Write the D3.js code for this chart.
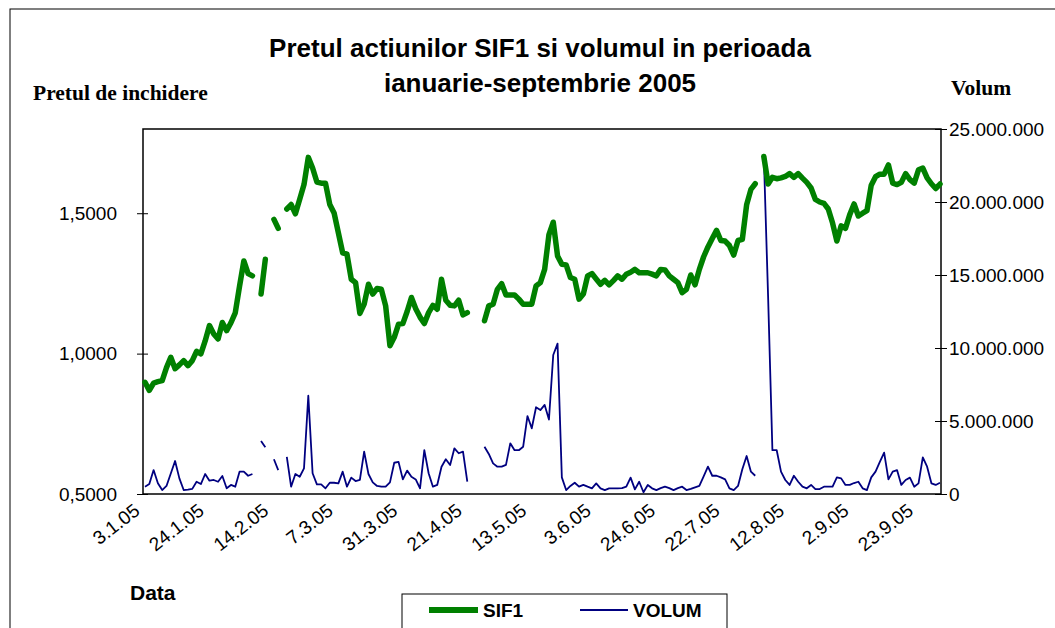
<!DOCTYPE html>
<html>
<head>
<meta charset="utf-8">
<script src="https://cdn.jsdelivr.net/npm/d3@7"></script>
<style>
  body { margin: 0; background: #fff; }
  svg { display: block; }
</style>
</head>
<body>
<svg id="chart" width="1055" height="628"></svg>
<script>
// SIF1 closing price and traded volume, Jan - Sep 2005 (one value per trading day, null = no data)
var sif1 = [
  0.898, 0.869, 0.895, 0.900, 0.904, 0.950, 0.987, 0.946, 0.960, 0.975,
  0.957, 0.975, 1.008, 0.999, 1.045, 1.100, 1.070, 1.052, 1.111, 1.082,
  1.110, 1.145, 1.240, 1.330, 1.285, 1.277, null, 1.212, 1.336, null,
  1.478, 1.446, null, 1.515, 1.531, 1.498, 1.550, 1.602, 1.699, 1.661,
  1.611, 1.607, 1.607, 1.531, 1.501, 1.430, 1.359, 1.354, 1.265, 1.253,
  1.143, 1.176, 1.247, 1.212, 1.232, 1.229, 1.170, 1.028, 1.058, 1.105,
  1.107, 1.150, 1.200, 1.160, 1.130, 1.107, 1.146, 1.172, 1.158, 1.265,
  1.190, 1.172, 1.170, 1.190, 1.138, 1.146, null, null, null, 1.117,
  1.170, 1.176, 1.229, 1.249, 1.209, 1.209, 1.209, 1.194, 1.176, 1.176,
  1.176, 1.241, 1.253, 1.300, 1.424, 1.468, 1.348, 1.318, 1.316, 1.271,
  1.265, 1.194, 1.212, 1.277, 1.285, 1.266, 1.247, 1.261, 1.245, 1.260,
  1.277, 1.265, 1.283, 1.290, 1.300, 1.288, 1.288, 1.288, 1.283, 1.277,
  1.300, 1.298, 1.277, 1.265, 1.253, 1.217, 1.229, 1.280, 1.245, 1.300,
  1.345, 1.380, 1.410, 1.439, 1.403, 1.401, 1.385, 1.351, 1.403, 1.407,
  1.530, 1.585, 1.605, null, 1.702, 1.604, 1.628, 1.623, 1.626, 1.631,
  1.641, 1.628, 1.641, 1.625, 1.610, 1.590, 1.549, 1.540, 1.535, 1.515,
  1.465, 1.401, 1.455, 1.446, 1.495, 1.533, 1.490, 1.500, 1.509, 1.600,
  1.630, 1.639, 1.639, 1.672, 1.607, 1.602, 1.610, 1.641, 1.620, 1.607,
  1.655, 1.661, 1.626, 1.605, 1.588, 1.604
];

// volume in millions of shares
var volum = [
  0.50, 0.68, 1.64, 0.73, 0.27, 0.55, 1.40, 2.26, 1.07, 0.27,
  0.30, 0.35, 0.84, 0.68, 1.37, 0.91, 0.96, 0.84, 1.23, 0.39,
  0.62, 0.50, 1.53, 1.53, 1.25, 1.37, null, 3.63, 3.20, null,
  2.38, 1.64, null, 2.55, 0.50, 1.37, 1.18, 1.76, 6.73, 1.42,
  0.66, 0.66, 0.39, 0.77, 0.77, 0.73, 1.53, 0.50, 1.12, 0.89,
  0.96, 2.90, 1.37, 0.80, 0.55, 0.50, 0.50, 0.80, 2.14, 2.20,
  1.00, 1.60, 1.18, 1.00, 0.39, 3.00, 1.42, 0.50, 0.62, 1.87,
  2.38, 1.99, 3.13, 2.79, 2.90, 0.84, null, null, null, 3.24,
  2.74, 2.10, 1.87, 1.87, 1.99, 3.47, 3.00, 3.00, 3.24, 5.34,
  4.50, 5.94, 5.75, 6.10, 5.10, 9.52, 10.30, 1.14, 0.27, 0.55,
  0.77, 0.50, 0.62, 0.50, 0.39, 0.73, 0.39, 0.27, 0.39, 0.39,
  0.39, 0.40, 0.50, 1.12, 0.32, 0.84, 0.12, 0.62, 0.39, 0.27,
  0.40, 0.50, 0.40, 0.27, 0.40, 0.50, 0.27, 0.35, 0.46, 0.55,
  1.20, 1.87, 1.25, 1.25, 1.14, 1.00, 0.39, 0.27, 0.55, 1.69,
  2.60, 1.53, 1.25, null, 23.20, 13.50, 3.00, 3.00, 1.53, 0.96,
  0.62, 1.25, 0.84, 0.50, 0.39, 0.62, 0.34, 0.34, 0.50, 0.50,
  0.50, 1.14, 1.07, 0.62, 0.62, 0.75, 0.84, 0.39, 0.27, 1.14,
  1.53, 2.20, 2.83, 1.00, 1.53, 1.64, 0.62, 0.96, 1.12, 0.50,
  0.73, 2.51, 1.87, 0.73, 0.62, 0.77
];

// category labels shown every 15 trading days
var dateLabels = ["3.1.05", "24.1.05", "14.2.05", "7.3.05", "31.3.05", "21.4.05", "13.5.05",
  "3.6.05", "24.6.05", "22.7.05", "12.8.05", "2.9.05", "23.9.05"];
var labelStep = 15;

var priceTicks = [0.5, 1.0, 1.5];
var volumTicks = [0, 5e6, 10e6, 15e6, 20e6, 25e6];

const pLeft = 143, pRight = 941, pTop = 129, pBottom = 494;
const ro = d3.formatLocale({ decimal: ",", thousands: ".", grouping: [3], currency: ["", ""] });
const sans = "Liberation Sans, Arial, sans-serif";

var svg = d3.select("#chart");

// outer chart frame
svg.append("rect")
  .attr("x", 10).attr("y", 9)
  .attr("width", 1100).attr("height", 700)
  .attr("fill", "#fff").attr("stroke", "#000").attr("stroke-width", 1);

var x = d3.scaleLinear().domain([0, sif1.length - 1]).range([pLeft + 2, pRight - 1]);
var yP = d3.scaleLinear().domain([0.5, 1.8]).range([pBottom, pTop]);
var yV = d3.scaleLinear().domain([0, 25e6]).range([pBottom, pTop]);

// plot area box
svg.append("rect")
  .attr("x", pLeft).attr("y", pTop)
  .attr("width", pRight - pLeft).attr("height", pBottom - pTop)
  .attr("fill", "none").attr("stroke", "#000").attr("stroke-width", 1.5);

// left axis
var axL = svg.append("g").attr("transform", "translate(" + pLeft + ",0)")
  .call(d3.axisLeft(yP).tickValues(priceTicks).tickSize(6).tickPadding(20).tickFormat(ro.format(".4f")));
axL.select(".domain").remove();
axL.selectAll(".tick line").attr("x2", -6).attr("x1", 5).attr("stroke", "#000");
axL.selectAll("text").attr("font-family", sans).attr("font-size", 19).attr("fill", "#000");

// right axis
var axR = svg.append("g").attr("transform", "translate(" + pRight + ",0)")
  .call(d3.axisRight(yV).tickValues(volumTicks).tickSize(6).tickPadding(2).tickFormat(ro.format(",d")));
axR.select(".domain").remove();
axR.selectAll(".tick line").attr("x1", -6).attr("x2", 6).attr("stroke", "#000");
axR.selectAll("text").attr("font-family", sans).attr("font-size", 19).attr("fill", "#000");

// x labels
svg.append("g").selectAll("text")
  .data(dateLabels)
  .enter().append("text")
  .attr("transform", function (d, i) {
    return "translate(" + (x(i * labelStep) - 4) + "," + (pBottom + 19) + ") rotate(-38)";
  })
  .attr("text-anchor", "end")
  .attr("font-family", sans)
  .attr("font-size", 19)
  .text(function (d) { return d; });

// series
var lineP = d3.line()
  .defined(function (d) { return d != null; })
  .x(function (d, i) { return x(i); })
  .y(function (d) { return yP(d); });

var lineV = d3.line()
  .defined(function (d) { return d != null; })
  .x(function (d, i) { return x(i); })
  .y(function (d) { return yV(d * 1e6); });

svg.append("path")
  .attr("d", lineV(volum))
  .attr("fill", "none").attr("stroke", "#000080").attr("stroke-width", 1.8)
  .attr("stroke-linejoin", "round");

svg.append("path")
  .attr("d", lineP(sif1))
  .attr("fill", "none").attr("stroke", "#008000").attr("stroke-width", 5.5)
  .attr("stroke-linejoin", "round").attr("stroke-linecap", "round");

// titles
var title = svg.append("text")
  .attr("text-anchor", "middle")
  .attr("font-family", sans)
  .attr("font-weight", "bold").attr("font-size", 26);
title.append("tspan").attr("x", 540).attr("y", 57).text("Pretul actiunilor SIF1 si volumul in perioada");
title.append("tspan").attr("x", 540).attr("y", 92).text("ianuarie-septembrie 2005");

svg.append("text").attr("x", 33).attr("y", 100)
  .attr("font-family", "Liberation Serif, Times New Roman, serif")
  .attr("font-weight", "bold").attr("font-size", 21.5)
  .text("Pretul de inchidere");

svg.append("text").attr("x", 951).attr("y", 95)
  .attr("font-family", "Liberation Serif, Times New Roman, serif")
  .attr("font-weight", "bold").attr("font-size", 21.5)
  .text("Volum");

svg.append("text").attr("x", 130).attr("y", 600)
  .attr("font-family", sans)
  .attr("font-weight", "bold").attr("font-size", 21)
  .text("Data");

// legend
var leg = svg.append("g");
leg.append("rect").attr("x", 402).attr("y", 594).attr("width", 325).attr("height", 60)
  .attr("fill", "#fff").attr("stroke", "#000").attr("stroke-width", 1);
leg.append("line").attr("x1", 429).attr("x2", 478).attr("y1", 610).attr("y2", 610)
  .attr("stroke", "#008000").attr("stroke-width", 6);
leg.append("line").attr("x1", 580).attr("x2", 628).attr("y1", 610).attr("y2", 610)
  .attr("stroke", "#000080").attr("stroke-width", 1.8);
leg.append("text").attr("x", 483).attr("y", 617)
  .attr("font-family", sans).attr("font-weight", "bold").attr("font-size", 19)
  .text("SIF1");
leg.append("text").attr("x", 633).attr("y", 617)
  .attr("font-family", sans).attr("font-weight", "bold").attr("font-size", 19)
  .text("VOLUM");
</script>
</body>
</html>
